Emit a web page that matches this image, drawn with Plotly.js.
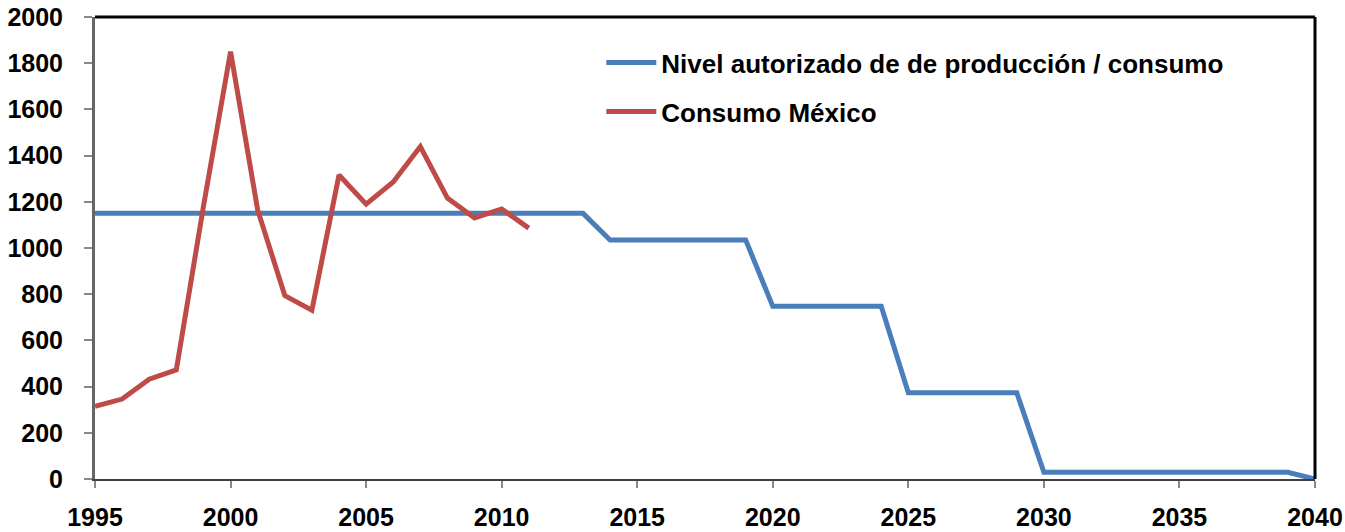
<!DOCTYPE html>
<html>
<head>
<meta charset="utf-8">
<script src="https://cdn.plot.ly/plotly-3.0.1.min.js"></script>
<style>html,body{margin:0;padding:0;background:#fff;}#chart{width:1345px;height:532px;}</style>
</head>
<body>
<div id="chart"></div>
<script>
const nivelYears = [1995,1996,1997,1998,1999,2000,2001,2002,2003,2004,2005,2006,2007,2008,2009,2010,2011,2012,2013,
  2014,2015,2016,2017,2018,2019,2020,2021,2022,2023,2024,2025,2026,2027,2028,2029,
  2030,2031,2032,2033,2034,2035,2036,2037,2038,2039,2040];
const nivelValues = [1150,1150,1150,1150,1150,1150,1150,1150,1150,1150,1150,1150,1150,1150,1150,1150,1150,1150,1150,
  1035,1035,1035,1035,1035,1035,747.5,747.5,747.5,747.5,747.5,373.75,373.75,373.75,373.75,373.75,
  28.75,28.75,28.75,28.75,28.75,28.75,28.75,28.75,28.75,28.75,0];
const consumoYears = [1995,1996,1997,1998,1999,2000,2001,2002,2003,2004,2005,2006,2007,2008,2009,2010,2011];
const consumoValues = [315,346,432,472,1180,1850,1165,794,731,1316,1190,1286,1439,1216,1130,1169,1086];
const xTicks = [1995,2000,2005,2010,2015,2020,2025,2030,2035,2040];
const yTicks = [0,200,400,600,800,1000,1200,1400,1600,1800,2000];

const FONT = 'Liberation Sans, Arial, sans-serif';
const data = [
  {x: nivelYears, y: nivelValues, type:'scatter', mode:'lines', name:'Nivel autorizado de de producción / consumo',
   legendgroup:'a', line:{color:'#4A7EBB', width:5}},
  {x: consumoYears, y: consumoValues, type:'scatter', mode:'lines', name:'Consumo México',
   legendgroup:'b', line:{color:'#BE4B48', width:5}}
];
const layout = {
  width:1345, height:532,
  margin:{l:95, r:30, t:17, b:53},
  paper_bgcolor:'#fff', plot_bgcolor:'#fff',
  font:{family:FONT, color:'#000'},
  showlegend:true,
  legend:{x:0.415, y:0.952, xanchor:'left', yanchor:'top', bgcolor:'rgba(0,0,0,0)',
    font:{family:FONT, size:26, color:'#000', weight:'bold'}, tracegroupgap:12, itemwidth:50},
  xaxis:{range:[1995,2040], tickvals:xTicks, ticktext:xTicks.map(String), showgrid:false, zeroline:false,
    showline:true, linecolor:'#404040', linewidth:2, ticks:'outside', ticklen:7, tickcolor:'#888', tickwidth:2,
    ticklabelstandoff:8,
    tickfont:{family:FONT, size:25, color:'#000', weight:'bold'}},
  yaxis:{range:[0,2000], tickvals:yTicks, ticktext:yTicks.map(String), showgrid:false, zeroline:false,
    showline:true, linecolor:'#666', linewidth:3, ticks:'outside', ticklen:8, tickcolor:'#888', tickwidth:2,
    ticklabelstandoff:16,
    tickfont:{family:FONT, size:25, color:'#000', weight:'bold'}},
  shapes:[
    {type:'line', xref:'paper', yref:'paper', x0:0, x1:1, y0:1, y1:1, line:{color:'#000', width:3}},
    {type:'line', xref:'paper', yref:'paper', x0:1, x1:1, y0:0, y1:1, line:{color:'#000', width:3}}
  ]
};
Plotly.newPlot('chart', data, layout, {displayModeBar:false, staticPlot:true});
</script>
</body>
</html>
